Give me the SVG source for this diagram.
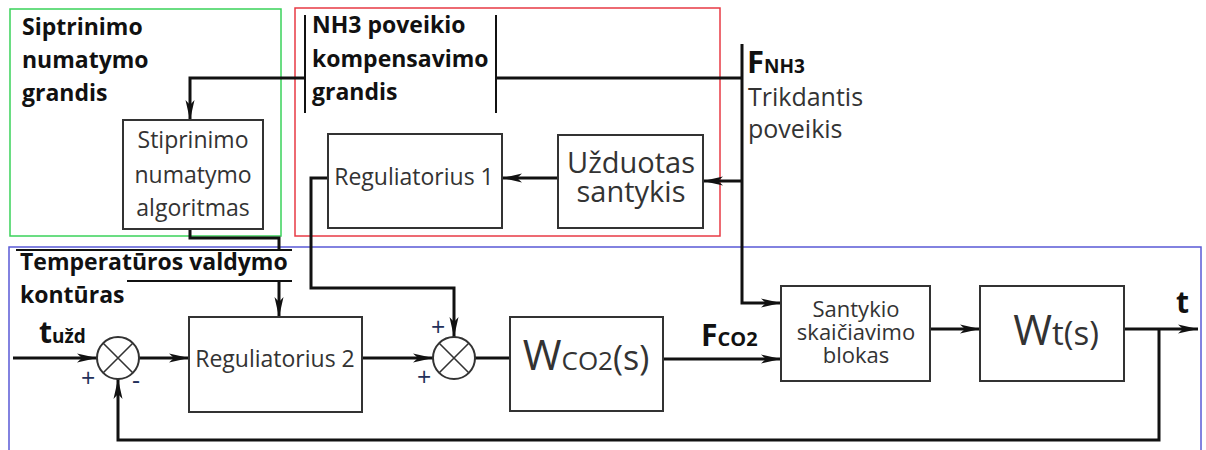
<svg xmlns="http://www.w3.org/2000/svg" width="1206" height="450" viewBox="0 0 1206 450">
  <style>
    .frame { fill: none; stroke-width: 1.5; }
    .box { fill: #fff; stroke: #333; stroke-width: 2; }
    .wire { fill: none; stroke: #111; stroke-width: 3; }
    .thin { fill: none; stroke: #111; stroke-width: 2; }
    .sum { fill: #fff; stroke: #333; stroke-width: 2; }
    .sumx { stroke: #333; stroke-width: 1.6; }
    .lbl { font-family: "Open Sans", "Liberation Sans", sans-serif; font-weight: bold; font-size: 23px; fill: #111; }
    .txt { font-family: "Open Sans", "Liberation Sans", sans-serif; fill: #333; }
    .sig { font-family: "Open Sans", "Liberation Sans", sans-serif; font-weight: bold; fill: #111; }
    .sign { font-family: "Open Sans", "Liberation Sans", sans-serif; font-size: 25px; fill: #23305a; }
  </style>
  <defs>
    <marker id="arr" viewBox="0 0 20 10" refX="20" refY="5" markerWidth="20" markerHeight="10" markerUnits="userSpaceOnUse" orient="auto">
      <path d="M0,0.5 L20,5 L0,9.5 L5,5 z" fill="#111"/>
    </marker>
  </defs>

  <rect width="1206" height="450" fill="#fff"/>

  <!-- grouping frames -->
  <rect class="frame" x="10" y="9" width="271" height="227" stroke="#3ad25a"/>
  <rect class="frame" x="295" y="8" width="425" height="228" stroke="#e83a44"/>
  <rect class="frame" x="9" y="247" width="1192" height="210" stroke="#5a5ad6"/>

  <!-- connectors -->
  <g id="connectors">
    <path class="wire" d="M742,44 V303 H781" marker-end="url(#arr)"/>
    <path class="wire" d="M742,181 H703" marker-end="url(#arr)"/>
    <path class="wire" d="M742,78 H496"/>
    <path class="wire" d="M305,78 H190 V120" marker-end="url(#arr)"/>
    <path class="thin" d="M305,15 V113 M496,15 V113"/>
    <path class="wire" d="M558,178 H502" marker-end="url(#arr)"/>
    <path class="wire" d="M328,178 H311 V288 H454 V337" marker-end="url(#arr)"/>
    <path class="wire" d="M190,229 V238 H279 V250"/>
    <path class="thin" d="M16,250 H292 M127,281 H292"/>
    <path class="wire" d="M279,281 V317" marker-end="url(#arr)"/>
    <path class="wire" d="M13,358 H97" marker-end="url(#arr)"/>
    <path class="wire" d="M139,358 H189" marker-end="url(#arr)"/>
    <path class="wire" d="M362,358 H433" marker-end="url(#arr)"/>
    <path class="wire" d="M475,358 H510"/>
    <path class="wire" d="M663,359 H781" marker-end="url(#arr)"/>
    <path class="wire" d="M930,329 H980" marker-end="url(#arr)"/>
    <path class="wire" d="M1124,329 H1198" marker-end="url(#arr)"/>
    <path class="wire" d="M1159,329 V440 H118 V379" marker-end="url(#arr)"/>
  </g>

  <!-- group captions -->
  <g id="cap-gain">
    <text class="lbl" x="22" y="35">Siptrinimo</text>
    <text class="lbl" x="22" y="68">numatymo</text>
    <text class="lbl" x="22" y="101">grandis</text>
  </g>
  <g id="cap-nh3">
    <text class="lbl" x="312" y="33">NH3 poveikio</text>
    <text class="lbl" x="312" y="67">kompensavimo</text>
    <text class="lbl" x="312" y="100">grandis</text>
  </g>
  <g id="cap-temp">
    <text class="lbl" x="20" y="270">Temperatūros valdymo</text>
    <text class="lbl" x="20" y="303">kontūras</text>
  </g>

  <!-- disturbance input -->
  <g id="in-fnh3">
    <text class="sig" x="747" y="73"><tspan font-size="31">F</tspan><tspan font-size="19">NH3</tspan></text>
    <text class="txt" x="748" y="106" style="font-size:25px">Trikdantis</text>
    <text class="txt" x="748" y="138" style="font-size:25px">poveikis</text>
  </g>

  <!-- blocks -->
  <g id="stiprinimo">
    <rect class="box" x="123" y="120" width="140" height="109"/>
    <text class="txt" x="193" y="148" text-anchor="middle" style="font-size:23px">Stiprinimo</text>
    <text class="txt" x="193" y="183" text-anchor="middle" style="font-size:23px">numatymo</text>
    <text class="txt" x="193" y="216" text-anchor="middle" style="font-size:23px">algoritmas</text>
  </g>
  <g id="reg1">
    <rect class="box" x="328" y="134" width="174" height="94"/>
    <text class="txt" x="414" y="185" text-anchor="middle" style="font-size:23px">Reguliatorius 1</text>
  </g>
  <g id="uzduotas">
    <rect class="box" x="558" y="135" width="145" height="93"/>
    <text class="txt" text-anchor="middle" style="font-size:29px"><tspan x="631" y="173">Užduotas</tspan><tspan x="631" y="202">santykis</tspan></text>
  </g>
  <g id="reg2">
    <rect class="box" x="189" y="317" width="173" height="95"/>
    <text class="txt" x="275" y="367" text-anchor="middle" style="font-size:23px">Reguliatorius 2</text>
  </g>
  <g id="wco2">
    <rect class="box" x="510" y="317" width="153" height="94"/>
    <text class="txt" x="586" y="370" text-anchor="middle" fill="#222"><tspan font-size="42">W</tspan><tspan font-size="26">CO2</tspan><tspan font-size="34">(s)</tspan></text>
  </g>
  <g id="santykio">
    <rect class="box" x="781" y="286" width="149" height="95"/>
    <text class="txt" text-anchor="middle" style="font-size:22px"><tspan x="856" y="317">Santykio</tspan><tspan x="856" y="340">skaičiavimo</tspan><tspan x="856" y="363">blokas</tspan></text>
  </g>
  <g id="wt">
    <rect class="box" x="980" y="286" width="144" height="95"/>
    <text class="txt" x="1056" y="345" text-anchor="middle" fill="#222"><tspan font-size="42">W</tspan><tspan font-size="33">t(s)</tspan></text>
  </g>

  <!-- summing junctions -->
  <g id="sum1">
    <circle class="sum" cx="118" cy="358" r="21"/>
    <path class="sumx" d="M103,343 L133,373 M133,343 L103,373"/>
    <text class="sign" x="81" y="387">+</text>
    <text class="sign" x="132" y="389">-</text>
  </g>
  <g id="sum2">
    <circle class="sum" cx="454" cy="358" r="21"/>
    <path class="sumx" d="M439,343 L469,373 M469,343 L439,373"/>
    <text class="sign" x="431" y="336">+</text>
    <text class="sign" x="417" y="386">+</text>
  </g>

  <!-- signal labels -->
  <g id="in-tuzd">
    <text class="sig" x="39" y="343"><tspan font-size="30">t</tspan><tspan font-size="19">užd</tspan></text>
  </g>
  <g id="sig-fco2">
    <text class="sig" x="701" y="346"><tspan font-size="30">F</tspan><tspan font-size="20">CO2</tspan></text>
  </g>
  <g id="out-t">
    <text class="sig" x="1176" y="313" font-size="30">t</text>
  </g>
</svg>
